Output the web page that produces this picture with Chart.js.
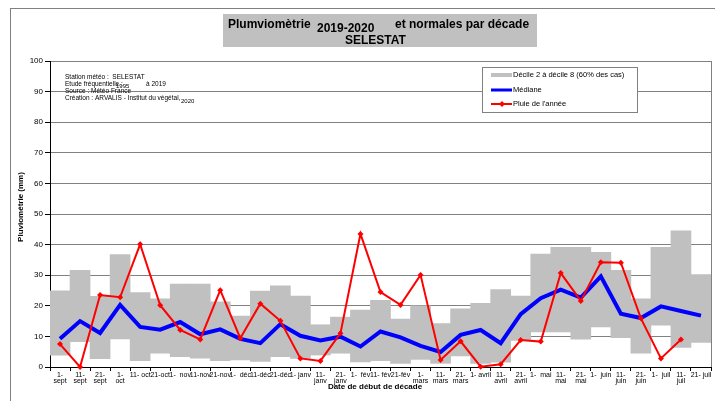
<!DOCTYPE html>
<html>
<head>
<meta charset="utf-8">
<script src="https://cdn.jsdelivr.net/npm/chart.js@4.4.1/dist/chart.umd.min.js"></script>
<style>
  html, body { margin: 0; padding: 0; background: #fff; }
  #wrap { width: 715px; height: 401px; }
</style>
</head>
<body>
<div id="wrap"><canvas id="chart" width="715" height="401"></canvas></div>
<script>
// décades de septembre 2019 à juillet 2020
const decades = [
  ['1-', 'sept'], ['11-', 'sept'], ['21-', 'sept'], ['1-', 'oct'], '11- oct', '21-oct',
  '1-  nov', '11-nov', '21-nov', '1-  déc', '11-déc', '21-déc',
  '1- janv', ['11-', 'janv'], ['21-', 'janv'], '1-  fév', '11- fév', '21-fév',
  ['1-', 'mars'], ['11-', 'mars'], ['21-', 'mars'], '1- avril', ['11-', 'avril'], ['21-', 'avril'],
  '1-  mai', ['11-', 'mai'], ['21-', 'mai'], '1-  juin', ['11-', 'juin'], ['21-', 'juin'],
  '1-  juil', ['11-', 'juil'], '21- juil'
];

// fréquentiel 1995-2019 (mm)
const decile2 = [3.9, 8.3, 2.7, 9.2, 2.1, 4.5, 3.4, 2.9, 2.1, 2.3, 1.8, 3.4, 2.8, 3.9, 4.5, 1.7, 2.1,
  1.2, 2.5, 1.2, 3.6, 1.2, 1.6, 8.7, 11.5, 11.5, 9.1, 13.1, 9.6, 4.5, 13.7, 6.4, 8.0];
const decile8 = [24.9, 31.6, 23.1, 36.7, 24.3, 22.3, 27.1, 27.1, 21.3, 16.6, 24.8, 26.5, 23.2, 13.8, 16.3,
  18.6, 21.8, 15.7, 20.0, 14.2, 19.0, 20.8, 25.3, 23.2, 36.9, 39.1, 39.1, 37.5, 31.6, 22.3, 39.1, 44.5, 30.2];
const mediane = [9.2, 15.0, 11.1, 20.3, 13.1, 12.2, 14.7, 10.7, 12.3, 9.2, 7.8, 14.0, 10.2, 8.7, 9.9, 6.7,
  11.6, 9.7, 6.9, 4.9, 10.5, 12.1, 7.8, 17.3, 22.5, 25.3, 22.7, 29.6, 17.4, 16.0, 19.8, 18.3, 16.8];

// pluie 2019-2020 (mm)
const pluie = [7.5, 0, 23.5, 22.8, 40.1, 20.2, 12.1, 9.0, 25.1, 9.4, 20.7, 15.1, 2.8, 2.0, 11.0, 43.5,
  24.5, 20.3, 30.1, 2.3, 8.4, 0.1, 0.9, 8.8, 8.3, 30.7, 21.6, 34.2, 34.1, 15.9, 2.8, 9.0, null];

const yTicks = [0, 10, 20, 30, 40, 50, 60, 70, 80, 90, 100];

const FONT = 'Liberation Sans, Arial, sans-serif';
const GREY = '#c0c0c0';

// textes, cadre et légende dessinés à la main (positions façon Excel)
const decorations = {
  id: 'decorations',
  afterDraw(chart) {
    const ctx = chart.ctx;
    const area = chart.chartArea;
    ctx.save();

    // cadre extérieur
    ctx.strokeStyle = '#808080';
    ctx.lineWidth = 1;
    ctx.strokeRect(10.5, 8.5, 800, 500);

    // bord droit du graphique
    ctx.beginPath();
    ctx.moveTo(area.right + 0.5, area.top);
    ctx.lineTo(area.right + 0.5, area.bottom);
    ctx.stroke();

    // titre
    ctx.fillStyle = GREY;
    ctx.fillRect(223, 14, 314, 33);
    ctx.fillStyle = '#000';
    ctx.textBaseline = 'alphabetic';
    ctx.textAlign = 'left';
    ctx.font = 'bold 12px ' + FONT;
    ctx.fillText('Plumviomètrie', 228, 28);
    ctx.fillText('2019-2020', 317, 32);
    ctx.fillText('et normales par décade', 395, 28);
    ctx.fillText('SELESTAT', 345, 44);

    // infos station
    ctx.font = '6.5px ' + FONT;
    ctx.fillText('Station météo :  SELESTAT', 65, 79);
    ctx.fillText('Etude fréquentielle :', 65, 85.5);
    ctx.fillText('à 2019', 146, 85.5);
    ctx.fillText('Source : Météo France', 65, 92.5);
    ctx.fillText('Création : ARVALIS - Institut du végétal,', 65, 100);
    ctx.font = '6px ' + FONT;
    ctx.fillText('1995', 116, 87.5);
    ctx.fillText('2020', 181, 103);

    // titres des axes
    ctx.font = 'bold 8px ' + FONT;
    ctx.textAlign = 'center';
    ctx.fillText('Date de début de décade', 375, 389);
    ctx.save();
    ctx.translate(23, 207);
    ctx.rotate(-Math.PI / 2);
    ctx.fillText('Pluviométrie (mm)', 0, 0);
    ctx.restore();

    // légende
    ctx.fillStyle = '#fff';
    ctx.fillRect(482.5, 67.5, 155, 45);
    ctx.strokeStyle = '#808080';
    ctx.strokeRect(482.5, 67.5, 155, 45);
    const ds = chart.data.datasets;
    const rows = [
      { d: ds[2], y: 75, w: 4 },
      { d: ds[1], y: 90, w: 3 },
      { d: ds[0], y: 104, w: 2 }
    ];
    ctx.textAlign = 'left';
    ctx.textBaseline = 'middle';
    ctx.font = '7.5px ' + FONT;
    rows.forEach(r => {
      const col = r.d.type === 'line' ? r.d.borderColor : r.d.backgroundColor;
      ctx.strokeStyle = col;
      ctx.lineWidth = r.w;
      ctx.beginPath();
      ctx.moveTo(491, r.y);
      ctx.lineTo(512, r.y);
      ctx.stroke();
      if (r.d.pointRadius) {
        ctx.fillStyle = col;
        ctx.beginPath();
        ctx.moveTo(502, r.y - 3);
        ctx.lineTo(505, r.y);
        ctx.lineTo(502, r.y + 3);
        ctx.lineTo(499, r.y);
        ctx.closePath();
        ctx.fill();
      }
      ctx.fillStyle = '#000';
      ctx.fillText(r.d.label, 513, r.y);
    });

    ctx.restore();
  }
};

new Chart(document.getElementById('chart'), {
  type: 'bar',
  data: {
    labels: decades,
    datasets: [
      {
        type: 'line',
        label: "Pluie de l'année",
        data: pluie,
        borderColor: '#ff0000',
        backgroundColor: '#ff0000',
        borderWidth: 2,
        pointStyle: 'rectRot',
        pointRadius: 3,
        pointBorderWidth: 0,
        tension: 0,
        clip: false,
        order: 0
      },
      {
        type: 'line',
        label: 'Médiane',
        data: mediane,
        borderColor: '#0000ff',
        backgroundColor: '#0000ff',
        borderWidth: 4,
        pointRadius: 0,
        tension: 0,
        order: 1
      },
      {
        type: 'bar',
        label: 'Décile 2 à décile 8 (60% des cas)',
        data: decile2.map((v, i) => [v, decile8[i]]),
        backgroundColor: GREY,
        borderWidth: 0,
        barPercentage: 1,
        categoryPercentage: 1,
        order: 2
      }
    ]
  },
  options: {
    responsive: false,
    devicePixelRatio: 1,
    animation: false,
    layout: { padding: { top: 61, left: 0, right: 4, bottom: 0 } },
    plugins: {
      legend: { display: false },
      tooltip: { enabled: false },
      title: { display: false }
    },
    scales: {
      x: {
        offset: true,
        grid: { offset: true, drawOnChartArea: false, drawTicks: true, tickLength: 4, color: '#000' },
        border: { color: '#000' },
        ticks: {
          autoSkip: false, maxRotation: 0, minRotation: 0, padding: 1, color: '#000',
          font: { family: FONT, size: 7, lineHeight: 0.85 }
        },
        afterFit(s) { s.height = 34; s.paddingLeft = 0; s.paddingRight = 0; }
      },
      y: {
        min: 0,
        max: 100,
        afterBuildTicks(s) { s.ticks = yTicks.map(v => ({ value: v })); },
        grid: { color: '#808080', tickColor: '#000', tickLength: 5 },
        border: { color: '#000' },
        ticks: { padding: 2, color: '#000', font: { family: FONT, size: 8 } },
        afterFit(s) { s.width = 50; }
      }
    }
  },
  plugins: [decorations]
});
</script>
</body>
</html>
